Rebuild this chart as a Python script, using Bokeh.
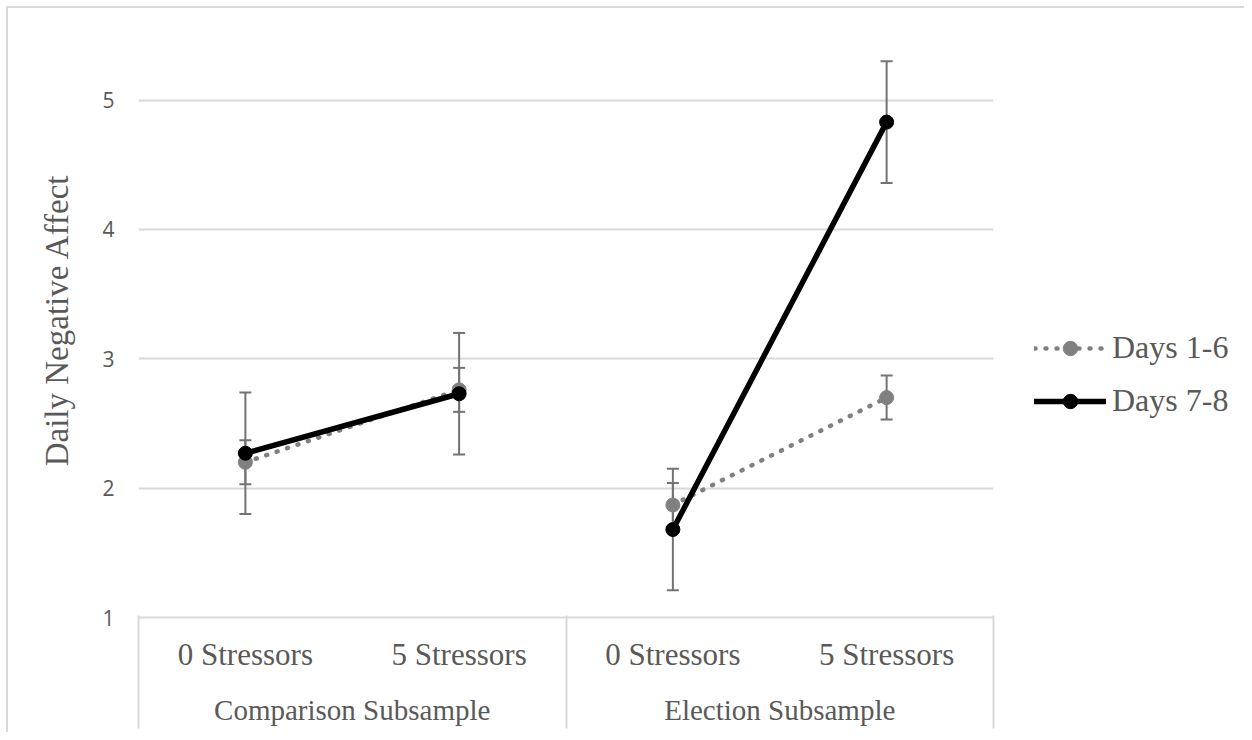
from bokeh.plotting import figure
from bokeh.layouts import row
from bokeh.models import (Range1d, FixedTicker, LinearAxis, Whisker, TeeHead,
                          ColumnDataSource, Legend, LegendItem)
from bokeh.embed import file_html
from bokeh.resources import INLINE

# ---- data ----
categories = ["0 Stressors", "5 Stressors", "0 Stressors", "5 Stressors"]
groups = ["Comparison Subsample", "Comparison Subsample",
          "Election Subsample", "Election Subsample"]
days_1_6 = [2.20, 2.76, 1.87, 2.70]
err_1_6 = [0.17, 0.17, 0.17, 0.17]
days_7_8 = [2.27, 2.73, 1.68, 4.83]
err_7_8 = [0.47, 0.47, 0.47, 0.47]
y_ticks = [1, 2, 3, 4, 5]
series_names = ["Days 1-6", "Days 7-8"]

# ---- derived positions (category slots) ----
xpos = [i + 0.5 for i in range(len(categories))]
group_names = []
for g in groups:
    if g not in group_names:
        group_names.append(g)
bounds = [0]
for g in group_names:
    bounds.append(bounds[-1] + groups.count(g))
group_centers = [(bounds[k] + bounds[k + 1]) / 2 for k in range(len(group_names))]

SERIF = "Liberation Serif"
TXT = "#595959"
GRID = "#d9d9d9"
H = 724

p = figure(width=990, height=H, x_range=Range1d(0, len(categories)),
           y_range=Range1d(1, 5.6), output_backend="svg", toolbar_location=None,
           min_border_left=130, min_border_right=5, min_border_top=14,
           min_border_bottom=115)
p.outline_line_color = None
p.background_fill_color = "white"
p.border_fill_color = "white"

# y axis
yt = FixedTicker(ticks=y_ticks)
p.yaxis.ticker = yt
p.ygrid.ticker = yt
p.ygrid.grid_line_color = GRID
p.ygrid.grid_line_width = 2
p.xgrid.visible = False
ya = p.yaxis[0]
ya.axis_line_color = None
ya.major_tick_line_color = None
ya.minor_tick_line_color = None
ya.major_tick_out = 0
ya.minor_tick_out = 0
ya.major_label_standoff = 24
ya.major_label_text_font = "Open Sans"
ya.major_label_text_font_size = "21px"
ya.major_label_text_color = TXT
ya.axis_label = "Daily Negative Affect"
ya.axis_label_text_font = SERIF
ya.axis_label_text_font_size = "33px"
ya.axis_label_text_font_style = "normal"
ya.axis_label_text_color = TXT
ya.axis_label_standoff = 24

# x axis level 1 (sub-categories)
xa = p.xaxis[0]
xa.ticker = FixedTicker(ticks=xpos, minor_ticks=[])
xa.major_label_overrides = {x: c for x, c in zip(xpos, categories)}
xa.major_tick_line_color = None
xa.minor_tick_line_color = None
xa.major_tick_out = 0
xa.major_tick_in = 0
xa.minor_tick_out = 0
xa.minor_tick_in = 0
xa.axis_line_color = GRID
xa.axis_line_width = 2
xa.major_label_standoff = 19
xa.major_label_text_font = SERIF
xa.major_label_text_font_size = "31px"
xa.major_label_text_color = TXT

# x axis level 2 (groups)
xa2 = LinearAxis(ticker=FixedTicker(ticks=group_centers, minor_ticks=[]))
xa2.major_label_overrides = {x: g for x, g in zip(group_centers, group_names)}
xa2.major_tick_line_color = None
xa2.major_tick_out = 0
xa2.major_tick_in = 0
xa2.minor_tick_line_color = None
xa2.minor_tick_out = 0
xa2.minor_tick_in = 0
xa2.axis_line_color = None
xa2.major_label_standoff = 19
xa2.major_label_text_font = SERIF
xa2.major_label_text_font_size = "29px"
xa2.major_label_text_color = TXT
p.add_layout(xa2, "below")

# boundary lines of the category table (ticks pointing up through both levels)
xa3 = LinearAxis(ticker=FixedTicker(ticks=[], minor_ticks=bounds))
xa3.major_tick_out = 0
xa3.major_tick_in = 0
xa3.minor_tick_out = 0
xa3.minor_tick_in = 113
xa3.minor_tick_line_color = GRID
xa3.minor_tick_line_width = 2
xa3.axis_line_color = None
xa3.major_label_standoff = 0
xa3.major_label_text_font_size = "0px"
p.add_layout(xa3, "below")

# ---- series ----
def group_lists(vals):
    xs, ys = [], []
    for k in range(len(group_names)):
        idx = list(range(bounds[k], bounds[k + 1]))
        xs.append([xpos[i] for i in idx])
        ys.append([vals[i] for i in idx])
    return xs, ys

specs = [(days_1_6, err_1_6, "#808080", "1 10", 4.5, 14),
         (days_7_8, err_7_8, "#000000", "solid", 5.5, 14)]

# legend panel (separate figure on the right)
pl = figure(width=246, height=H, x_range=Range1d(0, 1), y_range=Range1d(0, 1),
            output_backend="svg", toolbar_location=None, min_border=0,
            x_axis_location=None, y_axis_location=None)
pl.outline_line_color = None
pl.xgrid.visible = False
pl.ygrid.visible = False
pl.background_fill_color = "white"
pl.border_fill_color = "white"

nan = float("nan")
items = []
for name, (vals, errs, col, dash, lw, msize) in zip(series_names, specs):
    src = ColumnDataSource(dict(x=xpos, y=vals,
                                lower=[v - e for v, e in zip(vals, errs)],
                                upper=[v + e for v, e in zip(vals, errs)]))
    wk = Whisker(source=src, base="x", lower="lower", upper="upper",
                 line_color="#737373", line_width=2,
                 upper_head=TeeHead(size=12, line_color="#737373", line_width=2),
                 lower_head=TeeHead(size=12, line_color="#737373", line_width=2))
    p.add_layout(wk)
    xs, ys = group_lists(vals)
    p.multi_line(xs=xs, ys=ys, line_color=col, line_width=lw,
                 line_dash=dash, line_cap="round")
    p.scatter(x="x", y="y", source=src, size=msize, fill_color=col,
              line_color=col, marker="circle")
    # legend-only proxies with identical style (not drawn: NaN positions)
    lr = pl.multi_line(xs=[[nan]], ys=[[nan]], line_color=col, line_width=lw,
                       line_dash=dash, line_cap="round")
    sr = pl.scatter(x=[nan], y=[nan], size=msize, fill_color=col, line_color=col,
                    marker="circle")
    items.append(LegendItem(label=name, renderers=[lr, sr]))

legend = Legend(items=items, location=(36, 198), glyph_width=72, glyph_height=36,
                label_height=36, spacing=16, padding=0, margin=0, label_standoff=6,
                label_text_font=SERIF, label_text_font_size="32px",
                label_text_color=TXT, border_line_color=None,
                background_fill_alpha=0)
pl.add_layout(legend)

layout = row(p, pl, spacing=0)
layout.styles = {"margin": "6px 0 0 6px",
                 "border-left": "2px solid #d9d9d9", "border-top": "2px solid #d9d9d9"}

open("out.html", "w").write(file_html(layout, INLINE))
